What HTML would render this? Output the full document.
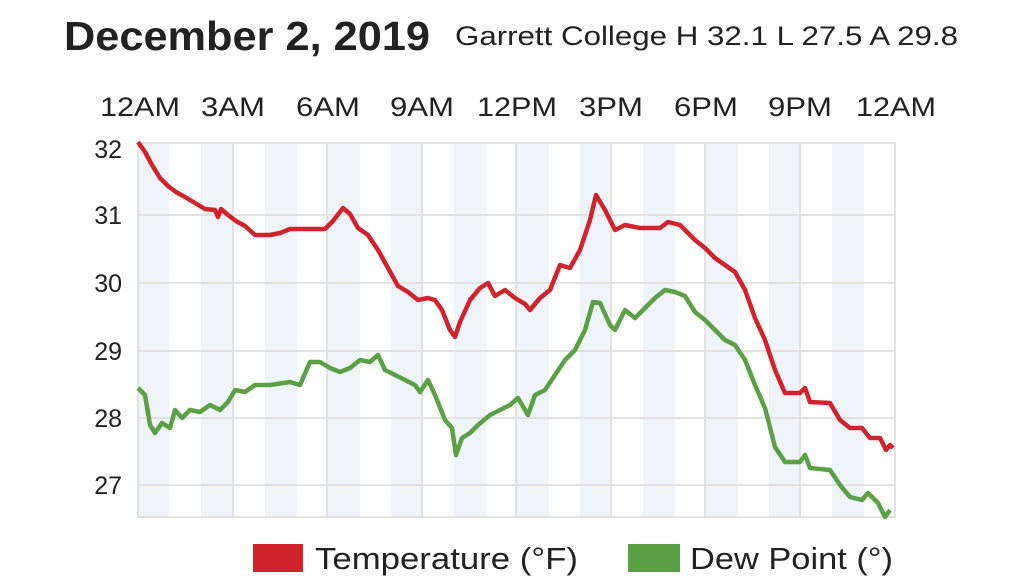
<!DOCTYPE html>
<html><head><meta charset="utf-8"><style>
body{margin:0;width:1024px;height:578px;background:#fff;overflow:hidden;font-family:"Liberation Sans",sans-serif;}
</style></head><body>
<svg width="1024" height="578" xmlns="http://www.w3.org/2000/svg" font-family="Liberation Sans, sans-serif">
<text x="64" y="50" font-size="41" font-weight="bold" fill="#222" textLength="366" lengthAdjust="spacingAndGlyphs">December 2, 2019</text>
<text x="455" y="45" font-size="27" fill="#222" textLength="503" lengthAdjust="spacingAndGlyphs">Garrett College H 32.1 L 27.5 A 29.8</text>
<g fill="#eef4fa">
<rect x="138" y="143" width="31" height="374"/><rect x="201" y="143" width="32" height="374"/>
<rect x="265" y="143" width="32" height="374"/><rect x="328" y="143" width="32" height="374"/>
<rect x="391" y="143" width="32" height="374"/><rect x="454" y="143" width="32" height="374"/>
<rect x="517" y="143" width="32" height="374"/><rect x="580" y="143" width="32" height="374"/>
<rect x="643" y="143" width="32" height="374"/><rect x="706" y="143" width="32" height="374"/>
<rect x="769" y="143" width="32" height="374"/><rect x="832" y="143" width="32" height="374"/>
</g>
<g stroke="#e2e2e2" stroke-width="2" fill="none">
<rect x="138" y="143" width="757" height="374"/>
<line x1="138" y1="215" x2="895" y2="215"/><line x1="138" y1="283" x2="895" y2="283"/>
<line x1="138" y1="351" x2="895" y2="351"/><line x1="138" y1="418" x2="895" y2="418"/>
<line x1="138" y1="485" x2="895" y2="485"/>
<line x1="233" y1="143" x2="233" y2="517"/><line x1="327" y1="143" x2="327" y2="517"/>
<line x1="422" y1="143" x2="422" y2="517"/><line x1="516" y1="143" x2="516" y2="517"/>
<line x1="611" y1="143" x2="611" y2="517"/><line x1="705" y1="143" x2="705" y2="517"/>
<line x1="800" y1="143" x2="800" y2="517"/>
</g>
<g font-size="27" fill="#222" text-anchor="middle">
<text x="140" y="116" textLength="80" lengthAdjust="spacingAndGlyphs">12AM</text>
<text x="233" y="116" textLength="64" lengthAdjust="spacingAndGlyphs">3AM</text>
<text x="328" y="116" textLength="64" lengthAdjust="spacingAndGlyphs">6AM</text>
<text x="422" y="116" textLength="64" lengthAdjust="spacingAndGlyphs">9AM</text>
<text x="517" y="116" textLength="80" lengthAdjust="spacingAndGlyphs">12PM</text>
<text x="611" y="116" textLength="64" lengthAdjust="spacingAndGlyphs">3PM</text>
<text x="706" y="116" textLength="64" lengthAdjust="spacingAndGlyphs">6PM</text>
<text x="800" y="116" textLength="64" lengthAdjust="spacingAndGlyphs">9PM</text>
<text x="896" y="116" textLength="80" lengthAdjust="spacingAndGlyphs">12AM</text>
</g>
<g font-size="25" fill="#222" text-anchor="end">
<text x="122" y="158">32</text><text x="122" y="224">31</text><text x="122" y="292">30</text>
<text x="122" y="360">29</text><text x="122" y="427">28</text><text x="122" y="494">27</text>
</g>
<polyline fill="none" stroke="#d0232b" stroke-width="4.5" stroke-linejoin="round" points="138,142 145,152 152,165 160,178 168,186 176,192 185,197 195,203 205,209 215,210 218,217 221,209 228,215 236,221 245,226 255,235 270,235 280,233 290,229 325,229 333,221 343,208 350,214 358,228 368,235 378,250 388,268 398,286 408,292 418,300 428,298 435,300 442,310 450,330 455,337 460,322 470,300 480,288 488,283 495,296 505,290 515,298 525,304 530,310 540,298 550,290 560,265 570,268 580,250 590,220 596,195 605,210 615,230 625,225 640,228 660,228 668,222 680,225 695,240 705,248 715,258 725,265 735,272 745,290 755,318 765,340 775,370 785,393 800,393 805,388 810,402 830,403 840,420 850,428 862,428 870,438 880,438 886,450 890,445 893,448"/>
<polyline fill="none" stroke="#5aa045" stroke-width="4.5" stroke-linejoin="round" points="138,388 145,395 150,425 155,433 162,423 170,428 175,410 182,418 190,410 200,412 210,405 220,410 228,402 235,390 245,392 255,385 270,385 290,382 300,385 310,362 320,362 330,368 340,372 350,368 360,360 370,362 378,355 385,370 395,375 405,380 415,385 420,392 428,380 435,395 445,420 452,428 456,455 462,438 470,433 478,425 490,415 500,410 510,405 518,398 528,415 535,395 545,390 555,375 565,360 575,350 585,330 593,302 600,303 610,325 615,330 625,310 635,318 645,308 655,298 665,290 675,292 685,296 695,312 705,320 715,330 725,340 735,345 745,360 755,385 765,408 775,447 785,462 800,462 805,455 810,468 830,470 840,485 850,497 862,500 868,493 878,503 885,517 890,510"/>
<rect x="253" y="544" width="50" height="28" fill="#d0232b"/>
<text x="315" y="569" font-size="31" fill="#222" textLength="263" lengthAdjust="spacingAndGlyphs">Temperature (°F)</text>
<rect x="628" y="544" width="52" height="28" fill="#5aa045"/>
<text x="690" y="569" font-size="31" fill="#222" textLength="203" lengthAdjust="spacingAndGlyphs">Dew Point (°)</text>
</svg>
</body></html>
